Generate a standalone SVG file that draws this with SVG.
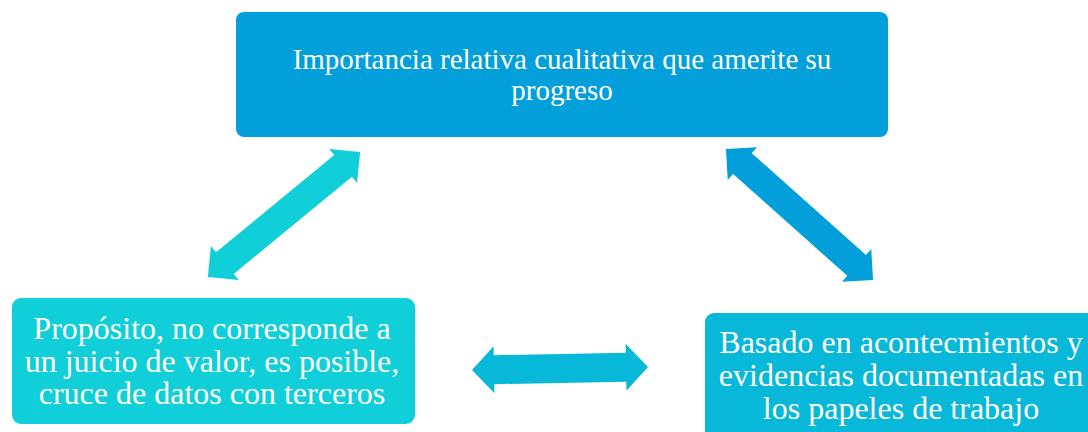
<svg xmlns="http://www.w3.org/2000/svg" width="1088" height="432" viewBox="0 0 1088 432">
<style>
.lbl{font-family:"Liberation Serif","Times New Roman",serif;fill:#ffffff;text-anchor:middle}
.top{font-size:29px}
.bot{font-size:32px}
</style>
<rect width="1088" height="432" fill="#ffffff"/>
<g id="connectors">
<polygon fill="#10cfd9" transform="translate(284,214.5) rotate(-39.4)" points="-98.5,0 -76.5,-22 -76.5,-14 76.5,-14 76.5,-22 98.5,0 76.5,22 76.5,14 -76.5,14 -76.5,22"/>
<polygon fill="#039fda" transform="translate(799.5,214.5) rotate(41.7)" points="-98.5,0 -76.5,-22 -76.5,-14 76.5,-14 76.5,-22 98.5,0 76.5,22 76.5,14 -76.5,14 -76.5,22"/>
<polygon fill="#08b8d8" transform="translate(560,368.5) rotate(-1)" points="-88,0 -66,-23.5 -66,-14.5 66,-14.5 66,-23.5 88,0 66,23.5 66,14.5 -66,14.5 -66,23.5"/>
</g>
<g id="node-top">
<rect x="236" y="12" width="652" height="125" rx="8" fill="#039fda"/>
<text class="lbl top" x="562" y="69">Importancia relativa cualitativa que amerite su</text>
<text class="lbl top" x="562" y="100">progreso</text>
</g>
<g id="node-left">
<rect x="12" y="298" width="403" height="126" rx="9" fill="#10cfd9"/>
<text class="lbl bot" x="212" y="339">Propósito, no corresponde a</text>
<text class="lbl bot" x="212" y="372">un juicio de valor, es posible,</text>
<text class="lbl bot" x="212" y="404">cruce de datos con terceros</text>
</g>
<g id="node-right">
<rect x="705" y="313" width="400" height="130" rx="9" fill="#08b8d8"/>
<text class="lbl bot" x="901" y="353">Basado en acontecmientos y</text>
<text class="lbl bot" x="901" y="386">evidencias documentadas en</text>
<text class="lbl bot" x="901" y="419">los papeles de trabajo</text>
</g>
</svg>
